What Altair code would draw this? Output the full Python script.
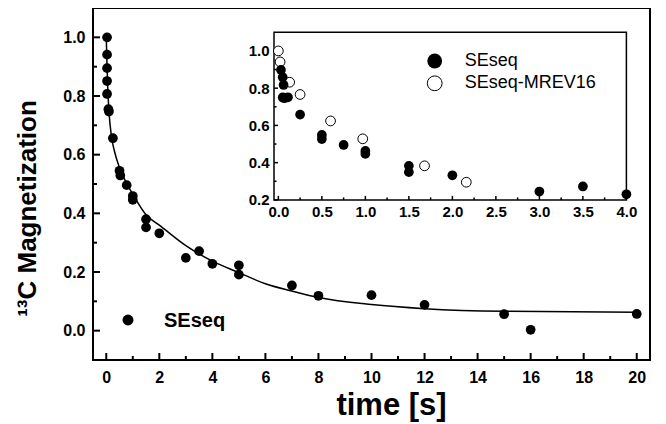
import altair as alt
import pandas as pd

# ---------------- data ----------------
# main panel, SEseq
main_t = [0.03, 0.03, 0.03, 0.03, 0.03, 0.08, 0.1, 0.25, 0.5, 0.53, 0.77, 1.0, 1.0, 1.5, 1.5,
          2.0, 3.0, 3.5, 4.0, 5.0, 5.0, 7.0, 8.0, 10.0, 12.0, 15.0, 16.0, 20.0]
main_v = [1.0, 0.941, 0.895, 0.851, 0.807, 0.755, 0.747, 0.656, 0.545, 0.529, 0.496, 0.459, 0.446,
          0.380, 0.352, 0.332, 0.248, 0.271, 0.228, 0.223, 0.191, 0.154, 0.119, 0.121, 0.088,
          0.056, 0.003, 0.057]
# fitted curve
fit_t = [0, 0.02, 0.05, 0.1, 0.2, 0.3, 0.5, 0.75, 1.0, 1.5, 2.0, 3.0, 4.0, 5.0, 6.0, 7.0, 8.0,
         10.0, 12.0, 15.0, 20.0]
fit_v = [1.0, 0.93, 0.84, 0.75, 0.66, 0.615, 0.555, 0.505, 0.465, 0.395, 0.36, 0.29, 0.237,
         0.198, 0.16, 0.135, 0.113, 0.089, 0.075, 0.066, 0.063]
# inset, SEseq
ins_se_t = [0.03, 0.05, 0.06, 0.05, 0.07, 0.11, 0.25, 0.5, 0.5, 0.75, 1.0, 1.0, 1.5, 1.5, 2.0,
            3.0, 3.5, 4.0]
ins_se_v = [0.898, 0.859, 0.817, 0.75, 0.746, 0.751, 0.658, 0.549, 0.527, 0.495, 0.463, 0.447,
            0.383, 0.349, 0.332, 0.245, 0.272, 0.230]
# inset, SEseq-MREV16
ins_mr_t = [0.0, 0.02, 0.13, 0.25, 0.6, 0.97, 1.68, 2.16]
ins_mr_v = [1.0, 0.941, 0.832, 0.766, 0.624, 0.528, 0.383, 0.295]

legend_labels = ["SEseq", "SEseq-MREV16"]

main_x_major = [0, 2, 4, 6, 8, 10, 12, 14, 16, 18, 20]
main_x_minor = [1, 3, 5, 7, 9, 11, 13, 15, 17, 19]
main_y_major = [0.0, 0.2, 0.4, 0.6, 0.8, 1.0]
main_y_minor = [0.1, 0.3, 0.5, 0.7, 0.9]
ins_x_major = [0.0, 0.5, 1.0, 1.5, 2.0, 2.5, 3.0, 3.5, 4.0]
ins_x_minor = [0.25, 0.75, 1.25, 1.75, 2.25, 2.75, 3.25, 3.75]
ins_y_major = [0.2, 0.4, 0.6, 0.8, 1.0]
ins_y_minor = [0.3, 0.5, 0.7, 0.9]

# ---------------- layout ----------------
W, H = 557, 352
FONT = "Liberation Sans"
IX0, IX1 = 181, 533.4      # inset frame (pixels inside plot area)
IY0, IY1 = 191.9, 24.3

xs_main = alt.Scale(domain=[-0.5, 20.5], nice=False, zero=False)
ys_main = alt.Scale(domain=[-0.1, 1.1], nice=False, zero=False)
xs_in = alt.Scale(domain=[-0.05, 4.0], range=[IX0, IX1], nice=False, zero=False)
ys_in = alt.Scale(domain=[0.2, 1.1], range=[IY0, IY1], nice=False, zero=False)

df_main = pd.DataFrame({"t": main_t, "v": main_v})
df_fit = pd.DataFrame({"t": fit_t, "v": fit_v})
df_se = pd.DataFrame({"t": ins_se_t, "v": ins_se_v})
df_mr = pd.DataFrame({"t": ins_mr_t, "v": ins_mr_v})
one = pd.DataFrame({"a": [0]})

# ---------------- main panel ----------------
main_pts = alt.Chart(df_main).mark_circle(size=95, color="black", opacity=1).encode(
    x=alt.X("t:Q", scale=xs_main, axis=alt.Axis(
        orient="bottom", values=main_x_major, format="d", ticks=False, domain=False, grid=False,
        labelFlush=False, labelFont=FONT, labelFontSize=16, labelFontWeight="bold",
        labelColor="black", labelPadding=9, title="time [s]", titleFont=FONT, titleFontSize=31,
        titleFontWeight="bold", titleColor="black", titleX=298, titleY=45,
        titleBaseline="middle", titleAlign="center")),
    y=alt.Y("v:Q", scale=ys_main, axis=alt.Axis(
        orient="left", values=main_y_major, format=".1f", ticks=False, domain=False, grid=False,
        labelFlush=False, labelFont=FONT, labelFontSize=16, labelFontWeight="bold",
        labelColor="black", labelPadding=8, title="¹³C Magnetization", titleFont=FONT,
        titleFontSize=26, titleFontWeight="bold", titleColor="black", titleX=-66, titleY=200,
        titleAngle=270, titleBaseline="middle", titleAlign="center")),
)

fit_line = alt.Chart(df_fit).mark_line(color="black", strokeWidth=1.5, interpolate="monotone").encode(
    x=alt.X("t:Q", scale=xs_main), y=alt.Y("v:Q", scale=ys_main))

mx_maj = alt.Chart(pd.DataFrame({"t": main_x_major})).mark_rule(color="black", strokeWidth=2).encode(
    x=alt.X("t:Q", scale=xs_main), y=alt.value(H), y2=alt.value(H - 7))
mx_min = alt.Chart(pd.DataFrame({"t": main_x_minor})).mark_rule(color="black", strokeWidth=2).encode(
    x=alt.X("t:Q", scale=xs_main), y=alt.value(H), y2=alt.value(H - 4))
my_maj = alt.Chart(pd.DataFrame({"v": main_y_major})).mark_rule(color="black", strokeWidth=2).encode(
    y=alt.Y("v:Q", scale=ys_main), x=alt.value(0), x2=alt.value(7))
my_min = alt.Chart(pd.DataFrame({"v": main_y_minor})).mark_rule(color="black", strokeWidth=2).encode(
    y=alt.Y("v:Q", scale=ys_main), x=alt.value(0), x2=alt.value(4))

main_leg_sym = alt.Chart(one).mark_circle(size=120, color="black", opacity=1).encode(
    x=alt.value(35), y=alt.value(312))
main_leg_txt = alt.Chart(pd.DataFrame({"lab": legend_labels[:1]})).mark_text(
    font=FONT, fontSize=20, fontWeight="bold", align="left", baseline="alphabetic", color="black"
).encode(x=alt.value(71), y=alt.value(319), text="lab:N")

main_group = alt.layer(mx_maj, mx_min, my_maj, my_min, fit_line, main_pts, main_leg_sym, main_leg_txt)

# ---------------- inset ----------------
frame = alt.Chart(one).mark_rect(fill="white", stroke="black", strokeWidth=1.5).encode(
    x=alt.XDatum(-0.05, scale=xs_in), x2=alt.X2Datum(4.0),
    y=alt.YDatum(0.2, scale=ys_in), y2=alt.Y2Datum(1.1))

ix_maj = alt.Chart(pd.DataFrame({"t": ins_x_major})).mark_rule(color="black", strokeWidth=1.5).encode(
    x=alt.X("t:Q", scale=xs_in), y=alt.value(IY0), y2=alt.value(IY0 - 4))
ix_min = alt.Chart(pd.DataFrame({"t": ins_x_minor})).mark_rule(color="black", strokeWidth=1.5).encode(
    x=alt.X("t:Q", scale=xs_in), y=alt.value(IY0), y2=alt.value(IY0 - 2.5))
iy_maj = alt.Chart(pd.DataFrame({"v": ins_y_major})).mark_rule(color="black", strokeWidth=1.5).encode(
    y=alt.Y("v:Q", scale=ys_in), x=alt.value(IX0), x2=alt.value(IX0 + 4))
iy_min = alt.Chart(pd.DataFrame({"v": ins_y_minor})).mark_rule(color="black", strokeWidth=1.5).encode(
    y=alt.Y("v:Q", scale=ys_in), x=alt.value(IX0), x2=alt.value(IX0 + 2.5))

ins_se = alt.Chart(df_se).mark_circle(size=95, color="black", opacity=1).encode(
    x=alt.X("t:Q", scale=xs_in, axis=alt.Axis(
        orient="bottom", offset=-(H - IY0), values=ins_x_major, format=".1f", ticks=False,
        domain=False, grid=False, labelFlush=False, labelFont=FONT, labelFontSize=15,
        labelFontWeight="bold", labelColor="black", labelPadding=5, title=None)),
    y=alt.Y("v:Q", scale=ys_in, axis=alt.Axis(
        orient="left", offset=-IX0, values=ins_y_major, format=".1f", ticks=False,
        domain=False, grid=False, labelFlush=False, labelFont=FONT, labelFontSize=15,
        labelFontWeight="bold", labelColor="black", labelPadding=5, title=None)),
)
ins_mr = alt.Chart(df_mr).mark_point(shape="circle", size=95, filled=True, fill="white",
                                     stroke="black", strokeWidth=1, opacity=1).encode(
    x=alt.X("t:Q", scale=xs_in), y=alt.Y("v:Q", scale=ys_in))

leg_se = alt.Chart(one).mark_circle(size=219, color="black", opacity=1).encode(
    x=alt.value(341.7), y=alt.value(53))
leg_mr = alt.Chart(one).mark_point(shape="circle", size=219, filled=True, fill="white",
                                   stroke="black", strokeWidth=1, opacity=1).encode(
    x=alt.value(341.7), y=alt.value(75.3))
leg_txt = alt.Chart(pd.DataFrame({"lab": legend_labels, "yy": [53, 75.3]})).mark_text(
    font=FONT, fontSize=18, align="left", baseline="middle", color="black"
).encode(x=alt.value(371.7), y=alt.Y("yy:Q", scale=None), text="lab:N")

inset_group = alt.layer(frame, ix_maj, ix_min, iy_maj, iy_min, ins_mr, ins_se, leg_se, leg_mr, leg_txt)

chart = alt.layer(main_group, inset_group).resolve_scale(
    x="independent", y="independent"
).properties(
    width=W, height=H,
    autosize=alt.AutoSizeParams(type="none"),
    padding={"left": 85, "top": 0, "right": 8, "bottom": 64},
    background="white",
).configure_view(stroke="black", strokeWidth=2)

chart.save("out.html", embed_options={"renderer": "svg", "actions": False})
